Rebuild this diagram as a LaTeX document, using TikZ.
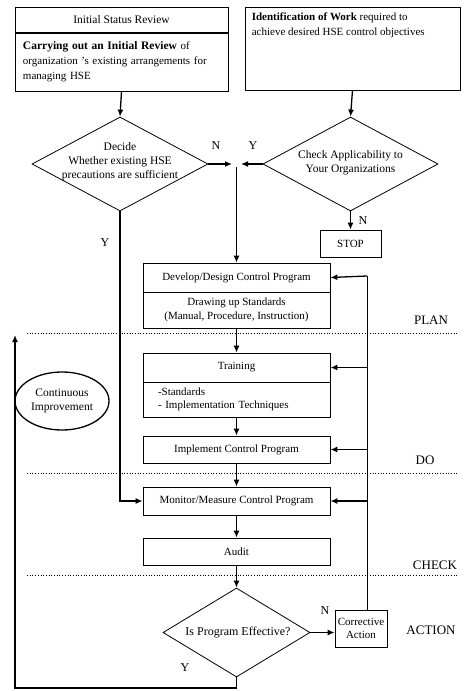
\documentclass[tikz,border=0pt]{standalone}
\usepackage{fontspec}
\setmainfont{Liberation Serif}
\usetikzlibrary{shapes.geometric,arrows.meta,positioning}

\tikzset{
  box/.style={draw, line width=0.8pt, inner sep=2pt, font=\fontsize{11}{13.5}\selectfont},
  dia/.style={draw, diamond, line width=0.8pt, inner sep=0pt},
  txt/.style={align=center, inner sep=0pt, font=\fontsize{11.5}{14}\selectfont},
  arr/.style={line width=1.3pt, -{Latex[length=7pt,width=6pt]}},
  feed/.style={line width=1pt},
  phase/.style={dotted, line width=0.7pt},
  lbl/.style={inner sep=0pt, font=\fontsize{12}{14}\selectfont},
}

\begin{document}
\begin{tikzpicture}[x=1pt, y=-1pt]
    \useasboundingbox (0,0) rectangle (468,691);

    % Top boxes
    \node[box, minimum width=213pt, minimum height=25pt, font=\fontsize{11.5}{13}\selectfont] (inihead) at (121.5,19.5) {Initial Status Review};
    \node[box, minimum width=213pt, minimum height=58pt, text width=197pt, align=left, font=\fontsize{11}{15}\selectfont] (inibody) at (121.5,62)
        {{\fontsize{11.5}{13}\selectfont\bfseries Carrying out an Initial Review} of\\organization 's existing arrangements for\\managing HSE};
    \node[box, minimum width=215pt, minimum height=83pt] (ident) at (352.5,48.5) {};
    \node[txt, anchor=north west, align=left, font=\fontsize{11}{15}\selectfont] (identtxt) at ([xshift=7pt,yshift=-6pt]ident.north west)
        {\textbf{Identification of Work} required to\\achieve desired HSE control objectives};

    % Decisions
    \node[dia, minimum width=176pt, minimum height=94pt] (decide) at (120,164) {};
    \node[txt] (decidetxt) at (120,162) {Decide\\Whether existing HSE\\precautions are sufficient};
    \node[dia, minimum width=175pt, minimum height=94pt] (check) at (350.5,164) {};
    \node[txt] (checktxt) at (350.5,163) {Check Applicability to\\Your Organizations};
    \node[box, minimum width=61pt, minimum height=27pt] (stop) at (350.5,243.5) {STOP};

    \coordinate (nend) at (232,164);
    \coordinate (yend) at (241,164);
    \coordinate (join) at (236.5,167);
    \draw[arr] (inihead.south |- inibody.south) -- (decide.north);
    \draw[arr] (ident.south) -- (check.north);
    \draw[arr] (decide.east) -- (nend);
    \draw[arr] (check.west) -- (yend);
    \draw[arr] (check.south) -- (stop.north);
    \node[lbl] (n1) at (216,146) {N};
    \node[lbl] (y1) at (253,146) {Y};
    \node[lbl] (n2) at (363,221) {N};

    % Control program
    \node[box, minimum width=187pt, minimum height=29pt] (devhead) at (236.5,277.5) {Develop/Design Control Program};
    \node[box, minimum width=187pt, minimum height=36pt, align=center] (devbody) at (236.5,310)
        {Drawing up Standards\\(Manual, Procedure, Instruction)};
    \node[box, minimum width=187pt, minimum height=29pt] (trainhead) at (236.5,367.5) {Training};
    \node[box, minimum width=187pt, minimum height=35pt, text width=157pt, align=left] (trainbody) at (236.5,399.5)
        {-Standards\\- Implementation Techniques};
    \node[box, minimum width=187pt, minimum height=27pt] (impl) at (236.5,449.5) {Implement Control Program};
    \node[box, minimum width=187pt, minimum height=28pt] (monitor) at (236.5,501) {Monitor/Measure Control Program};
    \node[box, minimum width=187pt, minimum height=27pt] (audit) at (236.5,551.5) {Audit};
    \node[dia, minimum width=147pt, minimum height=89pt] (effective) at (236.5,632.5) {};
    \node[txt, font=\fontsize{12}{14}\selectfont] (effectivetxt) at (238,633) {Is Program Effective?};
    \node[box, minimum width=52pt, minimum height=37pt, align=center, inner sep=0.5pt] (corr) at (361,628.5) {Corrective\\Action};
    \node[draw, ellipse, line width=1.3pt, minimum width=94pt, minimum height=58pt, align=center, inner sep=0pt,
        font=\fontsize{11.5}{14}\selectfont] (cont) at (62,401) {Continuous\\Improvement};

    \draw[arr] (join) -- (devhead.north);
    \draw[arr] (devbody.south) -- (trainhead.north);
    \draw[arr] (trainbody.south) -- (impl.north);
    \draw[arr] (impl.south) -- (monitor.north);
    \draw[arr] (monitor.south) -- (audit.north);
    \draw[arr] (audit.south) -- (effective.north);
    \draw[arr] (decide.south) |- (monitor.west);
    \node[lbl] (y2) at (105,243) {Y};

    % Corrective action feedback
    \coordinate (fb) at (367,276);
    \draw[arr] (effective.east) -- (effective.east -| corr.west);
    \node[lbl] (n3) at (325,611) {N};
    \draw[feed] (corr.north -| fb) -- (fb);
    \draw[arr] (fb) -- (devhead.east);
    \draw[arr] (fb |- trainhead.east) -- (trainhead.east);
    \draw[arr] (fb |- impl.east) -- (impl.east);
    \draw[arr] (fb |- monitor.east) -- (monitor.east);

    % Continuous improvement loop
    \coordinate (loopb) at (15,688);
    \coordinate (looptop) at (15,335);
    \draw[line width=1.3pt, -{Latex[length=7pt,width=6pt]}] (effective.south) |- (loopb) -- (looptop);
    \node[lbl] (y3) at (185,668) {Y};

    % Phases
    \draw[phase] (27,333) -- (457,333);
    \draw[phase] (27,473) -- (457,473);
    \draw[phase] (27,575) -- (457,575);
    \node[lbl, font=\fontsize{13}{15}\selectfont] (plan) at (431,320) {PLAN};
    \node[lbl, font=\fontsize{13}{15}\selectfont] (do) at (425,460) {DO};
    \node[lbl, font=\fontsize{13}{15}\selectfont] (chk) at (435,565) {CHECK};
    \node[lbl, font=\fontsize{13}{15}\selectfont] (act) at (431,630) {ACTION};
\end{tikzpicture}
\end{document}
